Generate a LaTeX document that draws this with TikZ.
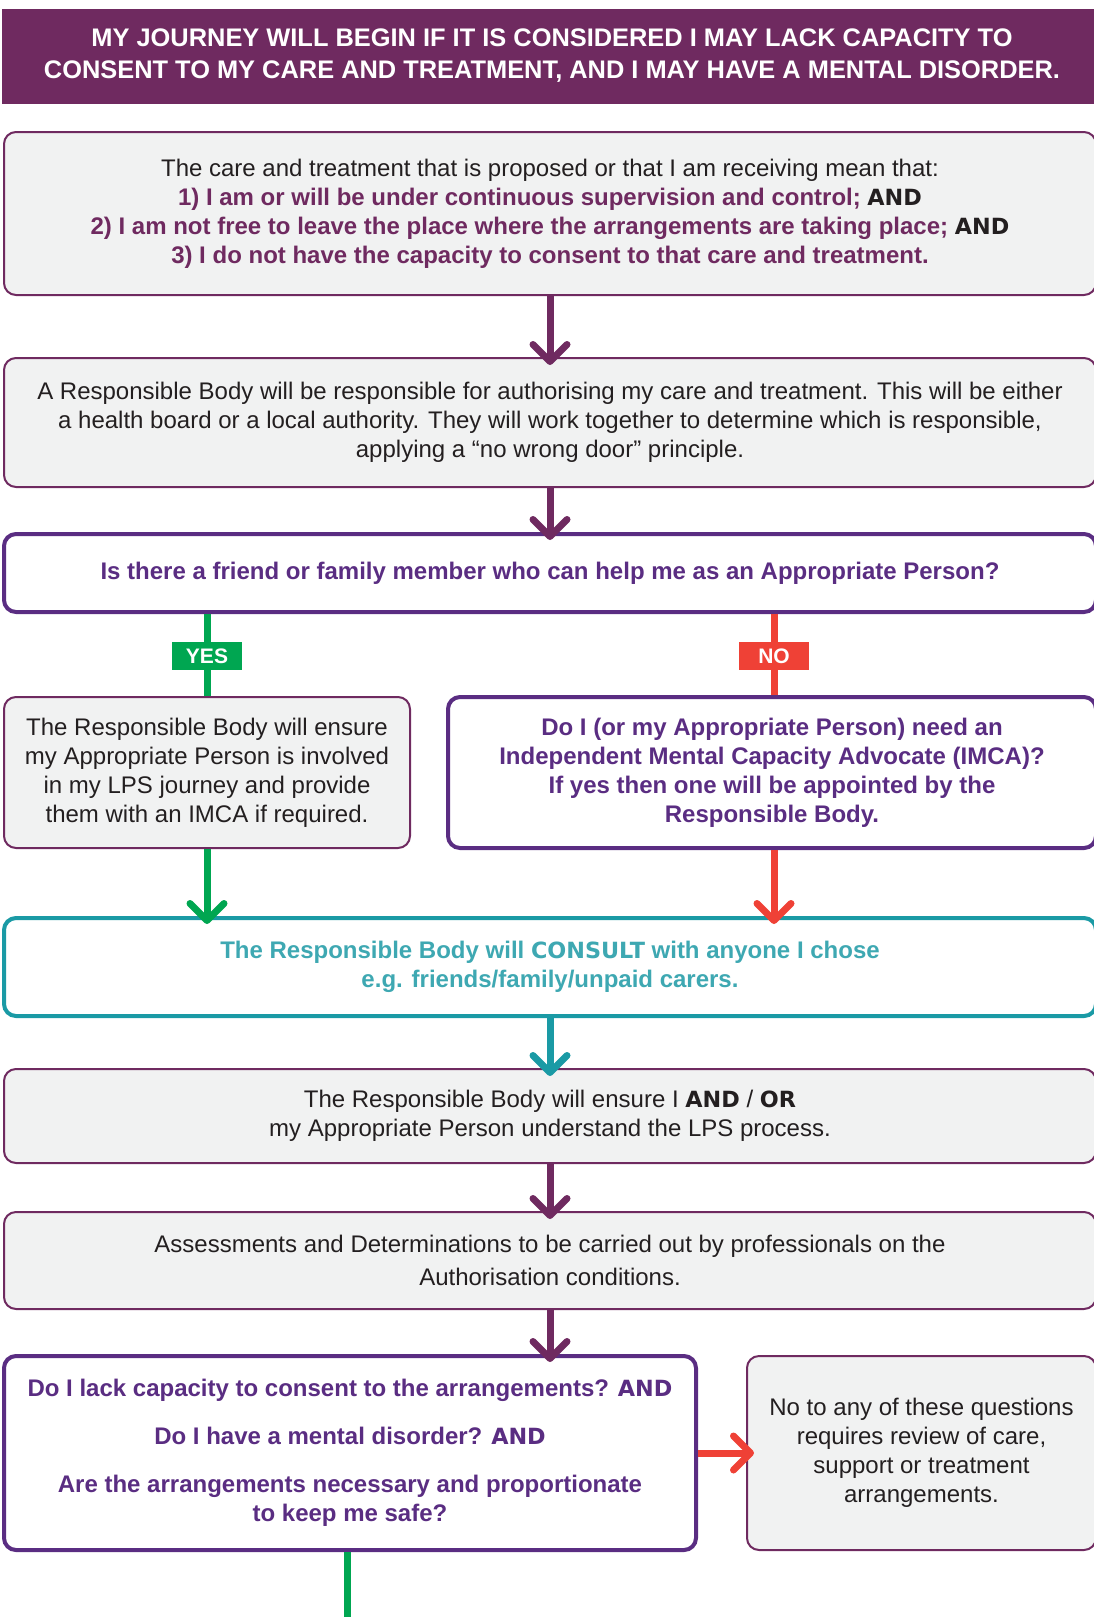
\documentclass[tikz,border=0pt]{standalone}
\usepackage{fontspec}
\setmainfont{Liberation Sans}
\newfontfamily\heavyfont{DejaVu Sans}[Scale=0.93]
\usetikzlibrary{arrows.meta}
\definecolor{lpsplum}{HTML}{6F2A60}
\definecolor{lpsviolet}{HTML}{5A2D82}
\definecolor{lpsteal}{HTML}{1A9AA5}
\definecolor{lpstealtext}{HTML}{3EA8B2}
\definecolor{lpsgreen}{HTML}{00A651}
\definecolor{lpsred}{HTML}{EF4136}
\definecolor{lpsgrey}{HTML}{F1F2F2}
\definecolor{lpsink}{HTML}{231F20}
\newcommand{\heavy}[1]{{\heavyfont\bfseries #1}}

\begin{document}
\begin{tikzpicture}[x=0.5pt, y=-0.5pt, font=\fontsize{12}{14.5}\selectfont, text=lpsink]
			\tikzstyle{greybox} = [draw=lpsplum, line width=1pt, fill=lpsgrey, rounded corners=6pt, align=center, inner sep=0pt]
			\tikzstyle{askbox}  = [draw=lpsviolet, line width=2pt, fill=white, rounded corners=6pt, align=center, inner sep=0pt, text=lpsviolet, font=\fontsize{12}{14.5}\selectfont\bfseries]
			\tikzstyle{tealbox} = [draw=lpsteal, line width=2pt, fill=white, rounded corners=6pt, align=center, inner sep=0pt, text=lpstealtext, font=\fontsize{12}{14.5}\selectfont\bfseries]
			\tikzstyle{yesno}   = [text=white, font=\fontsize{10.5}{12}\selectfont\bfseries, minimum width=35pt, minimum height=14pt, inner sep=0pt]
			\tikzstyle{flow}    = [line width=3.5pt, -{Straight Barb[length=8.5pt, width=17pt, round]}, shorten >=-4pt]

			\useasboundingbox (0,0) rectangle (1093,1617);

			\node[fill=lpsplum, text=white, minimum width=550pt, minimum height=47.5pt, inner sep=0pt, align=center, font=\fontsize{12.7}{16}\selectfont\bfseries] (head) at (552,56)
				{MY JOURNEY WILL BEGIN IF IT IS CONSIDERED I MAY LACK CAPACITY TO\\CONSENT TO MY CARE AND TREATMENT, AND I MAY HAVE A MENTAL DISORDER.};

			\node[greybox, minimum width=546pt, minimum height=81.5pt] (care) at (550,213.5)
				{The care and treatment that is proposed or that I am receiving mean that:\\
				\textcolor{lpsplum}{\bfseries 1) I am or will be under continuous supervision and control;} \heavy{AND}\\
				\textcolor{lpsplum}{\bfseries 2) I am not free to leave the place where the arrangements are taking place;} \heavy{AND}\\
				\textcolor{lpsplum}{\bfseries 3) I do not have the capacity to consent to that care and treatment.}};
			\node[greybox, minimum width=546pt, minimum height=64.5pt] (rb) at (550,422.5)
				{A Responsible Body will be responsible for authorising my care and treatment. This will be either\\
				a health board or a local authority. They will work together to determine which is responsible,\\
				applying a “no wrong door” principle.};
			\node[askbox, minimum width=546pt, minimum height=39pt] (friend) at (550,573)
				{Is there a friend or family member who can help me as an Appropriate Person?};
			\node[greybox, minimum width=203pt, minimum height=75.5pt] (ensure) at (207,772.5)
				{The Responsible Body will ensure\\my Appropriate Person is involved\\in my LPS journey and provide\\them with an IMCA if required.};
			\node[askbox, minimum width=324pt, minimum height=75.5pt] (imca) at (772,772.5)
				{Do I (or my Appropriate Person) need an\\Independent Mental Capacity Advocate (IMCA)?\\If yes then one will be appointed by the\\Responsible Body.};
			\node[tealbox, minimum width=546pt, minimum height=49pt] (consult) at (550,967)
				{The Responsible Body will \heavy{CONSULT} with anyone I chose\\e.g. friends/family/unpaid carers.};
			\node[greybox, minimum width=546pt, minimum height=47pt] (understand) at (550,1116)
				{The Responsible Body will ensure I \heavy{AND} / \heavy{OR}\\my Appropriate Person understand the LPS process.};
			\node[greybox, minimum width=546pt, minimum height=48.5pt] (assess) at (550,1260.5)
				{Assessments and Determinations to be carried out by professionals on the\\[2pt]Authorisation conditions.};
			\node[askbox, minimum width=346pt, minimum height=97pt] (lack) at (350,1453)
				{Do I lack capacity to consent to the arrangements? \heavy{AND}\\[9.5pt]
				Do I have a mental disorder? \heavy{AND}\\[9.5pt]
				Are the arrangements necessary and proportionate\\to keep me safe?};
			\node[greybox, minimum width=174.5pt, minimum height=97pt] (review) at (921.5,1453)
				{No to any of these questions\\requires review of care,\\support or treatment\\arrangements.};

			\node[yesno, fill=lpsgreen] (yes) at (207,656) {YES};
			\node[yesno, fill=lpsred] (no) at (774,656) {NO};
			\coordinate (next) at (347,1620);

			\foreach \from/\to/\col in {care/rb/lpsplum, rb/friend/lpsplum, consult/understand/lpsteal, understand/assess/lpsplum, assess/lack/lpsplum, ensure/consult/lpsgreen}
				\draw[flow, \col] (\from.south) -- (\from.south |- \to.north);
			\draw[flow, lpsred] (no |- imca.south) -- (no |- consult.north);
			\draw[flow, lpsred] (lack.east) -- (review.west);

			\draw[line width=3.5pt, lpsgreen] (friend.south -| yes) -- (yes) -- (ensure.north);
			\draw[line width=3.5pt, lpsred] (friend.south -| no) -- (no) -- (no |- imca.north);
			\draw[line width=3.5pt, lpsgreen] (lack.south -| next) -- (next);
\end{tikzpicture}
\end{document}
